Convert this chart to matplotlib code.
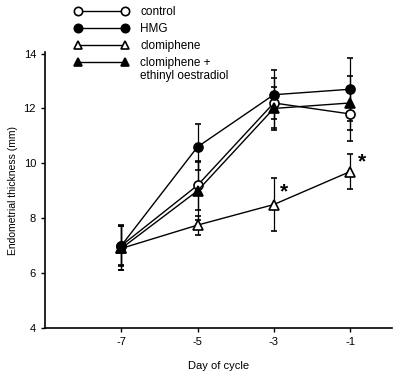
import numpy as np
from matplotlib import pyplot as plt
from matplotlib.lines import Line2D

plt.rcParams['font.family'] = ['Liberation Sans', 'DejaVu Sans']

# days of cycle
days = [-7, -5, -3, -1]

# mean endometrial thickness (mm) for each group
control = [7.0, 9.2, 12.2, 11.8]
hmg = [7.0, 10.6, 12.5, 12.7]
clomiphene = [6.9, 7.75, 8.5, 9.7]
clomi_ee = [6.9, 9.0, 12.0, 12.2]

# error bar half widths
control_err = [0.7, 0.9, 0.9, 1.0]
hmg_err = [0.75, 0.85, 0.9, 1.15]
clomiphene_err = [0.8, 0.35, 0.95, 0.65]
clomi_ee_err = [0.8, 1.05, 0.8, 1.0]

# significance markers
star_days = [-2.72, -0.7]
star_vals = [8.95, 10.05]

fig = plt.figure(figsize=(4.0, 3.81), dpi=100)
ax = fig.add_axes([0.1125, 0.139, 0.8675, 0.724])

groups = [
    ('control', control, control_err, 'o', 'white'),
    ('HMG', hmg, hmg_err, 'o', 'black'),
    ('clomiphene', clomiphene, clomiphene_err, '^', 'white'),
    ('clomiphene +', clomi_ee, clomi_ee_err, '^', 'black'),
]

handles = []
for name, vals, err, mk, fc in groups:
    ax.errorbar(days, vals, yerr=err, fmt='-', color='black', lw=1.0,
                marker=mk, ms=6.5, mfc=fc, mec='black', mew=1.2,
                capsize=2, elinewidth=0.9, capthick=0.9)
    # legend handle: marker - line - marker
    handles.append(Line2D([], [], color='black', lw=1.0, marker=mk, ms=6,
                          mfc=fc, mec='black', mew=1.2, label=name))

for d, v in zip(star_days, star_vals):
    ax.text(d, v, '*', fontsize=15, fontweight='bold', ha='center', va='center')

ax.set_xlim(-9, 0.1)
ax.set_ylim(4, 14.05)
ax.set_xticks(days)
ax.set_xticklabels(['-7', '-5', '-3', '-1'])
ax.set_yticks([4, 6, 8, 10, 12, 14])
ax.tick_params(labelsize=8, length=3, width=1, direction='out')
ax.spines['top'].set_visible(False)
ax.spines['right'].set_visible(False)
ax.spines['left'].set_linewidth(1.2)
ax.spines['bottom'].set_linewidth(1.2)
ax.set_xlabel('Day of cycle', fontsize=8, labelpad=10)
ax.set_ylabel('Endometrial thickness (mm)', fontsize=7.5)

leg = ax.legend(handles=handles, loc='upper left', bbox_to_anchor=(0.07, 1.185),
                numpoints=2, handlelength=4.6, frameon=False, fontsize=8.5,
                labelspacing=0.42, handletextpad=1.0, borderaxespad=0)
# second line of the last legend label, drawn after the legend
ax.annotate('ethinyl oestradiol', xy=(0, 0), xycoords=leg.get_texts()[3],
            xytext=(0, -1), textcoords='offset points', va='top',
            fontsize=8.5, zorder=10)

plt.savefig('out.png', dpi=100)
